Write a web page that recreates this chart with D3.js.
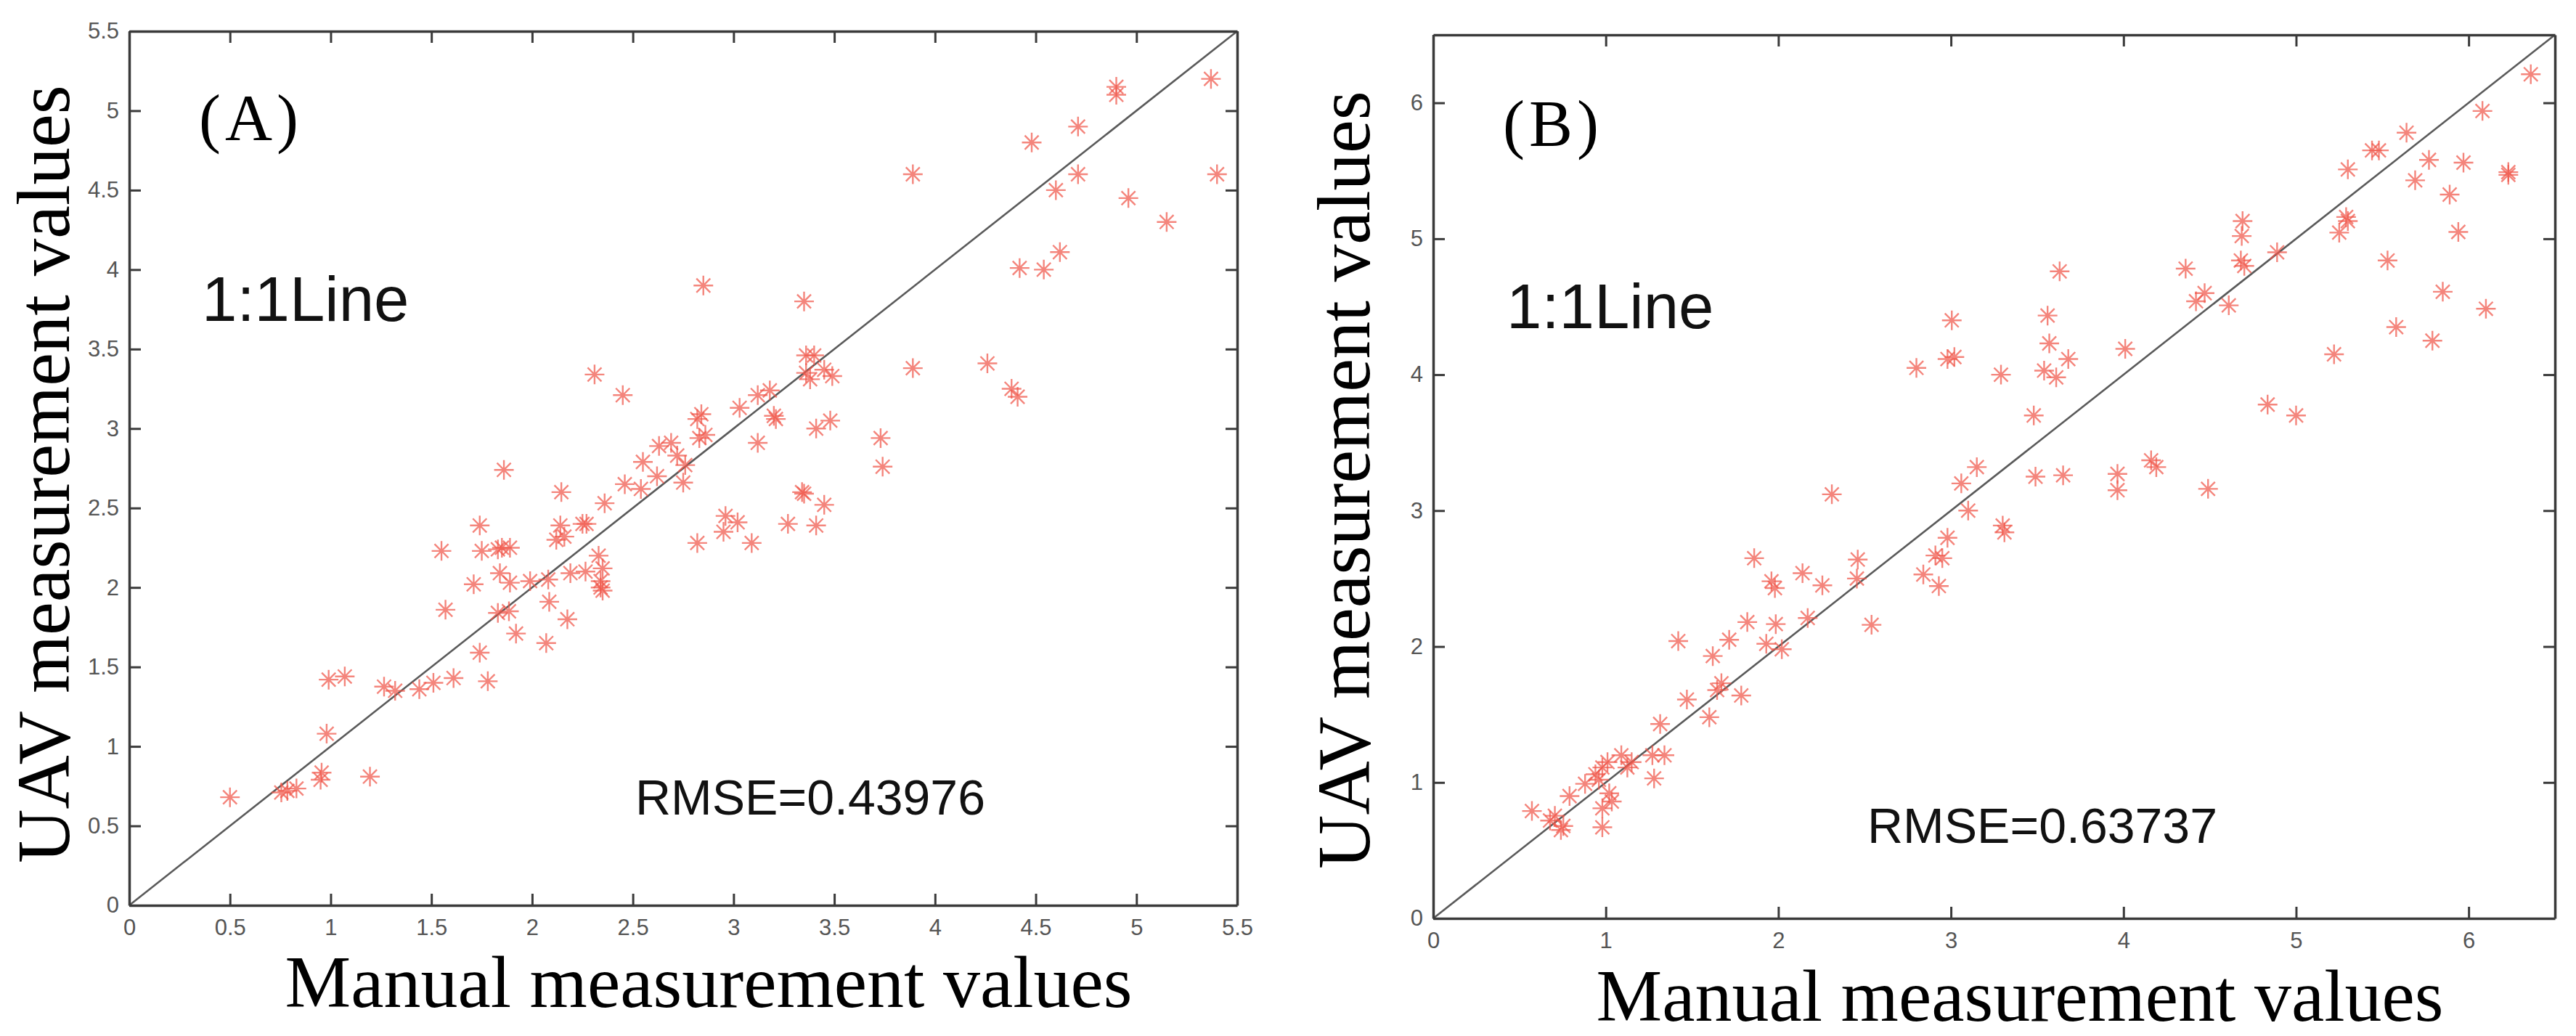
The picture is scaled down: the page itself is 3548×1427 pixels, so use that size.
<!DOCTYPE html>
<html>
<head>
<meta charset="utf-8" />
<title>UAV vs manual measurement</title>
<script src="https://cdn.jsdelivr.net/npm/d3@7"></script>
<style>
  html, body { margin: 0; padding: 0; background: #fff; }
  svg { display: block; }
  .tick text { font-family: "Liberation Sans", Arial, sans-serif; font-size: 31px; fill: #555; }
  .serif { font-family: "Liberation Serif", "Times New Roman", serif; fill: #000; }
  .sans { font-family: "Liberation Sans", Arial, sans-serif; fill: #111; }
</style>
</head>
<body>
<svg id="chart"></svg>
<script>

// panel A : manual vs UAV values
const manualA = [0.50, 0.755, 0.785, 0.83, 0.95, 0.955, 0.98, 0.99, 1.07, 1.195, 1.265, 1.32, 1.44, 1.51, 1.61,
  1.55, 1.57, 1.71, 1.74, 1.75, 1.74, 1.78, 1.83, 1.85, 1.89, 1.84, 1.89, 1.83, 1.885, 1.92, 1.99, 2.08, 2.085,
  2.07, 2.175, 2.12, 2.14, 2.16, 2.19, 2.25, 2.27, 2.265, 2.33, 2.34, 2.34, 2.35, 2.35,
  1.86, 2.31, 2.45, 2.145, 2.36, 2.46, 2.54, 2.55, 2.62, 2.63, 2.69, 2.72, 2.76, 2.75, 2.83, 2.86, 2.84, 2.82,
  2.85, 3.03, 3.12, 3.18, 3.20, 3.21, 3.12, 3.35, 3.36, 3.40, 3.38, 3.36, 3.45, 3.49, 3.48, 3.41, 3.34, 3.35,
  3.45, 3.27, 3.41, 2.96, 3.02, 2.95, 3.09, 2.82, 3.73, 3.74, 3.89, 3.89, 4.26, 4.38, 4.41, 4.42, 4.54, 4.48,
  4.60, 4.62, 4.71, 4.71, 4.90, 4.90, 4.96, 5.15, 5.37, 5.40];
const uavA = [0.68, 0.71, 0.72, 0.735, 0.79, 0.835, 1.08, 1.42, 1.44, 0.81, 1.376, 1.35, 1.36, 1.40, 1.43,
  2.23, 1.86, 2.02, 2.39, 2.23, 1.59, 1.41, 2.24, 2.25, 2.25, 2.09, 2.03, 1.84, 1.85, 1.71, 2.04, 2.05, 1.91,
  1.65, 1.80, 2.30, 2.39, 2.32, 2.09, 2.40, 2.40, 2.10, 2.20, 2.04, 2.00, 2.12, 1.98,
  2.74, 3.34, 3.21, 2.60, 2.53, 2.65, 2.62, 2.79, 2.70, 2.89, 2.91, 2.83, 2.77, 2.66, 2.94, 2.96, 3.09, 3.06,
  3.90, 3.13, 3.21, 3.24, 3.08, 3.06, 2.91, 3.80, 3.46, 3.46, 3.31, 3.35, 3.37, 3.33, 3.05, 3.00, 2.60, 2.59,
  2.52, 2.40, 2.39, 2.45, 2.41, 2.35, 2.28, 2.28, 2.94, 2.76, 3.38, 4.60, 3.41, 3.25, 3.20, 4.01, 4.00, 4.80,
  4.50, 4.11, 4.60, 4.90, 5.15, 5.10, 4.45, 4.30, 5.20, 4.60];

// panel B : manual vs UAV values
const manualB = [0.572, 0.677, 0.705, 0.754, 0.74, 0.79, 0.88, 0.94, 0.96, 0.98, 1.01, 0.98, 0.98, 1.02, 1.035,
  1.09, 1.125, 1.15, 1.27, 1.34, 1.28, 1.315, 1.47, 1.60, 1.645, 1.67, 1.785, 1.62, 1.715, 1.42, 1.82, 1.93,
  2.02, 1.86, 1.96, 1.98, 2.14, 2.255, 1.985, 2.17, 2.46, 2.455, 2.54, 2.84, 2.91, 2.95, 2.93, 2.98, 3.10,
  3.31, 3.30, 3.06, 3.15, 3.49, 3.65, 2.31, 2.80, 2.98, 3.02, 3.005, 3.29, 3.54, 3.61, 3.68, 3.57, 3.56, 3.63,
  3.48, 4.01, 4.16, 4.19, 3.965, 3.965, 4.49, 4.36, 4.47, 4.42, 4.61, 4.69, 4.685, 4.68, 4.70, 4.89, 4.835,
  5.00, 5.22, 5.25, 5.29, 5.30, 5.30, 5.44, 5.48, 5.64, 5.77, 5.69, 5.97, 5.89, 5.94, 6.08, 6.23, 6.23, 6.36,
  5.53, 5.85, 6.10, 5.58, 5.79];
const uavB = [0.79, 0.72, 0.755, 0.68, 0.65, 0.90, 0.99, 1.06, 1.02, 1.11, 1.15, 0.81, 0.67, 0.92, 0.86,
  1.20, 1.11, 1.15, 1.20, 1.20, 1.03, 1.43, 1.61, 1.48, 1.68, 1.73, 1.64, 1.93, 2.05, 2.04, 2.18, 2.02,
  1.98, 2.65, 2.48, 2.43, 2.54, 2.45, 2.165, 2.21, 2.64, 2.50, 2.16, 2.53, 2.67, 2.65, 2.445, 2.80, 3.00,
  2.84, 2.89, 3.20, 3.32, 3.25, 3.26, 3.12, 4.05, 4.115, 4.13, 4.40, 4.00, 4.03, 3.98, 4.115, 4.23, 4.435, 4.76,
  3.70, 4.19, 3.37, 3.32, 3.27, 3.15, 3.16, 4.78, 4.60, 4.54, 4.51, 5.13, 5.02, 4.84, 4.80, 4.90, 3.78,
  3.70, 4.15, 5.045, 5.16, 5.13, 5.51, 5.65, 5.65, 5.78, 5.58, 5.43, 5.56, 5.325, 5.05, 5.94, 5.47, 5.49, 6.21,
  4.84, 4.61, 4.485, 4.35, 4.25];

const ticksA = [0, 0.5, 1, 1.5, 2, 2.5, 3, 3.5, 4, 4.5, 5, 5.5];
const ticksB = [0, 1, 2, 3, 4, 5, 6];
const rmseLabels = ["RMSE=0.43976", "RMSE=0.63737"];
const panelTags = ["(A)", "(B)"];
const xTitle = "Manual measurement values";
const yTitle = "UAV measurement values";
const lineLabel = "1:1Line";

const W = 3548, H = 1427;

const svg = d3.select('#chart').attr('width', W).attr('height', H);

let panels = [
  { x: manualA, y: uavA, max: 5.5, ticks: ticksA, box: [178, 1704, 43, 1247],
    tag: panelTags[0], rmse: rmseLabels[0],
    tagAt: [96, 150], lineAt: [100, 399], rmseAt: [697, 1079], xtAt: [798, 140], ytAt: [-83, 610] },
  { x: manualB, y: uavB, max: 6.5, ticks: ticksB, box: [1974, 3519, 48, 1265],
    tag: panelTags[1], rmse: rmseLabels[1],
    tagAt: [96, 153], lineAt: [101, 404], rmseAt: [598, 1113], xtAt: [808, 141], ytAt: [-88, 613] }
];

function asterisk(r) {
  let d = r * Math.SQRT1_2;
  return `M${-r},0H${r}M0,${-r}V${r}M${-d},${-d}L${d},${d}M${-d},${d}L${d},${-d}`;
}

function styleAxis(g) {
  g.select('.domain').attr('stroke', '#3a3a3a').attr('stroke-width', 3.5);
  g.selectAll('.tick line').attr('stroke', '#3a3a3a').attr('stroke-width', 3);
}

for (let p of panels) {
  let [left, right, top, bottom] = p.box;
  let x = d3.scaleLinear().domain([0, p.max]).range([left, right]);
  let y = d3.scaleLinear().domain([0, p.max]).range([bottom, top]);
  let g = svg.append('g');

  // 1:1 line
  g.append('line')
    .attr('x1', x(0)).attr('y1', y(0))
    .attr('x2', x(p.max)).attr('y2', y(p.max))
    .attr('stroke', '#5a5a5a')
    .attr('stroke-width', 2.6);

  // points
  let pts = p.x.map((v, i) => [v, p.y[i]]);
  g.append('g')
    .selectAll('path')
    .data(pts)
    .enter()
    .append('path')
    .attr('d', asterisk(13.5))
    .attr('transform', d => `translate(${x(d[0])},${y(d[1])})`)
    .attr('fill', 'none')
    .attr('stroke', '#f0564a')
    .attr('stroke-opacity', 0.72)
    .attr('stroke-width', 2.4);

  // axes (ticks point inward, box on)
  g.append('g').attr('transform', `translate(0,${bottom})`)
    .call(d3.axisBottom(x).tickValues(p.ticks).tickFormat(d3.format('')).tickSizeInner(-16).tickSizeOuter(0).tickPadding(12))
    .call(styleAxis)
    .selectAll('text').attr('dy', '0.95em');
  g.append('g').attr('transform', `translate(${left},0)`)
    .call(d3.axisLeft(y).tickValues(p.ticks).tickFormat(d3.format('')).tickSizeInner(-16).tickSizeOuter(0).tickPadding(14))
    .call(styleAxis);
  g.append('g').attr('transform', `translate(0,${top})`)
    .call(d3.axisTop(x).tickValues(p.ticks).tickFormat('').tickSizeInner(-16).tickSizeOuter(0))
    .call(styleAxis);
  g.append('g').attr('transform', `translate(${right},0)`)
    .call(d3.axisRight(y).tickValues(p.ticks).tickFormat('').tickSizeInner(-16).tickSizeOuter(0))
    .call(styleAxis);
  g.selectAll('.tick text').attr('fill', '#555');

  // annotations
  g.append('text').attr('class', 'serif')
    .attr('x', left + p.tagAt[0]).attr('y', top + p.tagAt[1])
    .style('font-size', '90px').style('letter-spacing', '6px')
    .text(p.tag);
  g.append('text').attr('class', 'sans')
    .attr('x', left + p.lineAt[0]).attr('y', top + p.lineAt[1])
    .style('font-size', '87px')
    .text(lineLabel);
  g.append('text').attr('class', 'sans')
    .attr('x', left + p.rmseAt[0]).attr('y', top + p.rmseAt[1])
    .style('font-size', '68px')
    .text(p.rmse);

  // titles
  g.append('text').attr('class', 'serif')
    .attr('text-anchor', 'middle')
    .attr('x', left + p.xtAt[0]).attr('y', bottom + p.xtAt[1])
    .style('font-size', '102px')
    .text(xTitle);
  g.append('text').attr('class', 'serif')
    .attr('text-anchor', 'middle')
    .attr('transform', `translate(${left + p.ytAt[0]},${top + p.ytAt[1]}) rotate(-90)`)
    .style('font-size', '103px')
    .text(yTitle);
}

</script>
</body>
</html>
